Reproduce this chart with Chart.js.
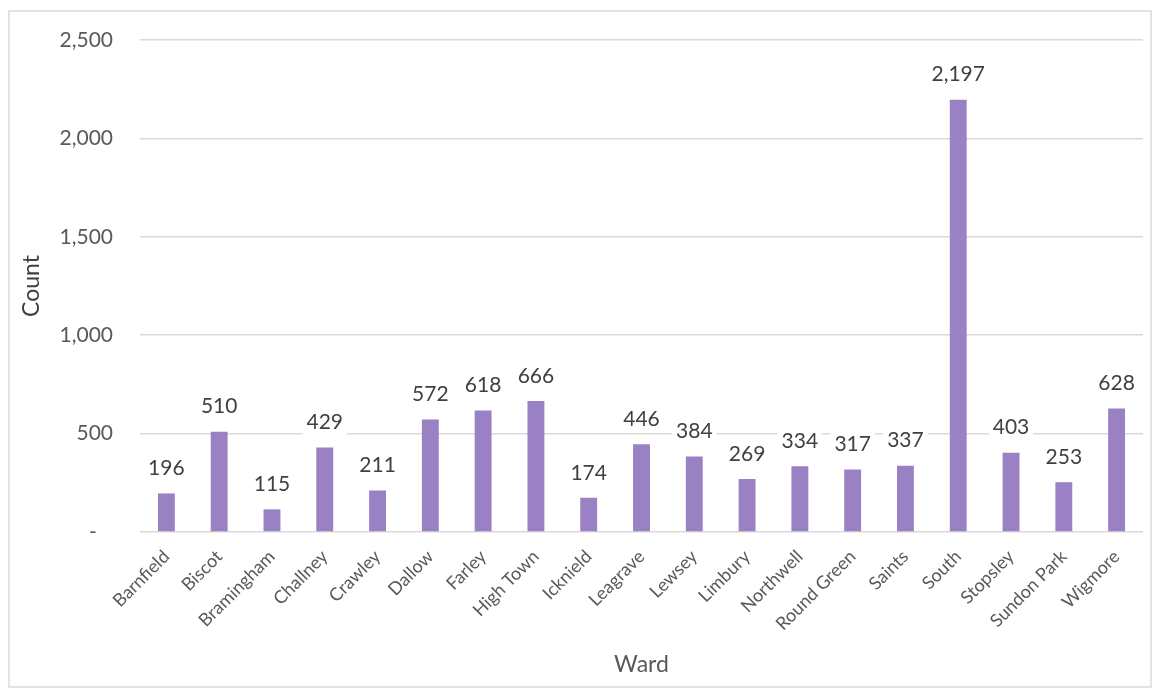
<!DOCTYPE html>
<html>
<head>
<meta charset="utf-8">
<script src="https://cdn.jsdelivr.net/npm/chart.js@4"></script>
<style>
  html, body { margin: 0; padding: 0; background: #fff; }
  #frame { position: absolute; left: 8px; top: 10px; width: 1140px; height: 674px; border: 2px solid #e3e3e3; }
  #wrap { position: absolute; left: 0; top: 0; width: 1157px; height: 693px; }
</style>
</head>
<body>
<div id="frame"></div>
<div id="wrap"><canvas id="chart"></canvas></div>
<script>
const wards = ['Barnfield', 'Biscot', 'Bramingham', 'Challney', 'Crawley', 'Dallow', 'Farley', 'High Town',
    'Icknield', 'Leagrave', 'Lewsey', 'Limbury', 'Northwell', 'Round Green', 'Saints', 'South',
    'Stopsley', 'Sundon Park', 'Wigmore'];
const counts = [196, 510, 115, 429, 211, 572, 618, 666, 174, 446, 384, 269, 334, 317, 337, 2197, 403, 253, 628];
const yTicks = [0, 500, 1000, 1500, 2000, 2500];

const fontFamily = 'Lato, "Open Sans", sans-serif';

// Draw value labels above each bar, on a white box so gridlines break behind them
const barLabels = {
    id: 'barLabels',
    afterDatasetsDraw(chart) {
        const ctx = chart.ctx;
        const meta = chart.getDatasetMeta(0);
        ctx.save();
        ctx.font = '21px ' + fontFamily;
        ctx.textAlign = 'center';
        ctx.textBaseline = 'middle';
        meta.data.forEach((bar, i) => {
            const text = counts[i].toLocaleString('en-US');
            const w = ctx.measureText(text).width;
            const cy = bar.y - 25;
            ctx.fillStyle = '#ffffff';
            ctx.fillRect(bar.x - w / 2 - 4, cy - 13, w + 8, 26);
            ctx.fillStyle = '#404040';
            ctx.fillText(text, bar.x, cy);
        });
        ctx.restore();
    }
};

new Chart(document.getElementById('chart').getContext('2d'), {
    type: 'bar',
    data: {
        labels: wards,
        datasets: [{
            label: 'Count',
            data: counts,
            backgroundColor: '#9a81c4',
            barPercentage: 0.32,
            categoryPercentage: 1.0
        }]
    },
    options: {
        responsive: true,
        maintainAspectRatio: false,
        animation: false,
        layout: { padding: { left: 10, right: 14, top: 40, bottom: 10 } },
        plugins: {
            legend: { display: false },
            tooltip: { enabled: false }
        },
        scales: {
            x: {
                grid: { display: false },
                border: { display: false },
                ticks: {
                    color: '#595959',
                    font: { family: fontFamily, size: 18 },
                    minRotation: 45,
                    maxRotation: 45,
                    autoSkip: false,
                    padding: 6
                },
                title: {
                    display: true,
                    text: 'Ward',
                    color: '#595959',
                    font: { family: fontFamily, size: 23 },
                    padding: { top: 0, bottom: 5 }
                },
                afterFit(scale) { scale.height = 151; }
            },
            y: {
                min: 0,
                max: 2500,
                afterBuildTicks(scale) { scale.ticks = yTicks.map(v => ({ value: v })); },
                grid: { color: '#d9d9d9', lineWidth: 1.5, drawTicks: false },
                border: { display: false },
                ticks: {
                    color: '#595959',
                    font: { family: fontFamily, size: 21 },
                    padding: 27,
                    callback: v => v === 0 ? '-   ' : v.toLocaleString('en-US')
                },
                title: {
                    display: true,
                    text: 'Count',
                    color: '#404040',
                    font: { family: fontFamily, size: 23 },
                    padding: { top: 8, bottom: 0 }
                },
                afterFit(scale) { scale.width = 130; }
            }
        }
    },
    plugins: [barLabels]
});
</script>
</body>
</html>
